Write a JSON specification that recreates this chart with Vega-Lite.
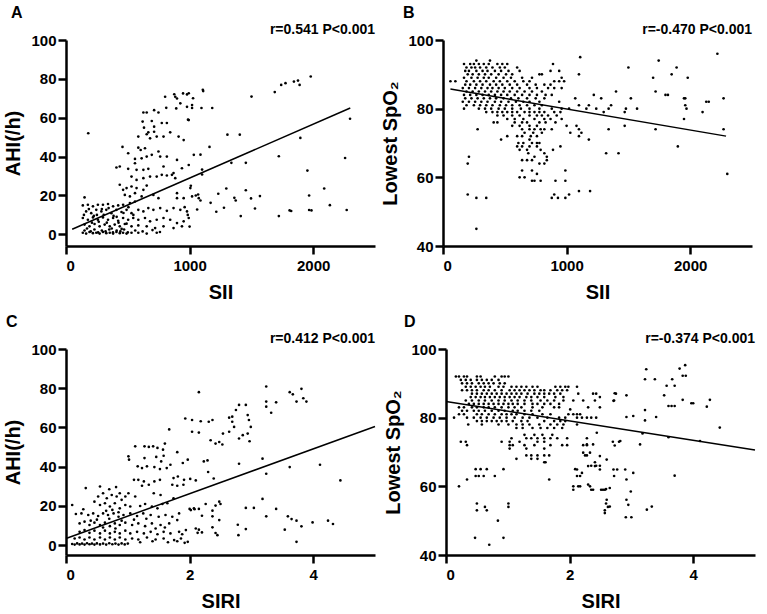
{
"$schema": "https://vega.github.io/schema/vega-lite/v6.json",
"background": "white",
"padding": {"left": 3, "top": 5, "right": 2, "bottom": 2},
"spacing": 12,
"datasets": {
"A": [
{"SII":802,"AHI":70.8},{"SII":876,"AHI":72.1},{"SII":898,"AHI":69.9},{"SII":947,"AHI":72.5},{"SII":979,"AHI":72},{"SII":884,"AHI":70.8},{"SII":1110,"AHI":73.7},{"SII":925,"AHI":67.4},{"SII":1020,"AHI":66.5},{"SII":979,"AHI":65.6},{"SII":811,"AHI":65.1},{"SII":892,"AHI":64.8},{"SII":626,"AHI":62.7},{"SII":653,"AHI":62.7},{"SII":713,"AHI":63.9},{"SII":748,"AHI":62.7},{"SII":993,"AHI":58.8},{"SII":620,"AHI":58},{"SII":694,"AHI":58.3},{"SII":775,"AHI":57.3},{"SII":816,"AHI":57.3},{"SII":631,"AHI":54.9},{"SII":713,"AHI":55.4},{"SII":585,"AHI":50.3},{"SII":653,"AHI":51.5},{"SII":680,"AHI":49.4},{"SII":734,"AHI":50.3},{"SII":789,"AHI":50.3},{"SII":843,"AHI":52.5},{"SII":911,"AHI":50.3},{"SII":952,"AHI":48.5},{"SII":713,"AHI":52.8},{"SII":666,"AHI":52.5},{"SII":457,"AHI":45},{"SII":585,"AHI":44.6},{"SII":604,"AHI":43.4},{"SII":639,"AHI":44.3},{"SII":503,"AHI":41.7},{"SII":653,"AHI":40},{"SII":748,"AHI":42.6},{"SII":762,"AHI":40},{"SII":816,"AHI":40},{"SII":898,"AHI":38.3},{"SII":694,"AHI":40.9},{"SII":558,"AHI":38.8},{"SII":612,"AHI":39.1},{"SII":1034,"AHI":40.9},{"SII":408,"AHI":34.4},{"SII":435,"AHI":34.9},{"SII":503,"AHI":33.7},{"SII":571,"AHI":33.2},{"SII":626,"AHI":33.2},{"SII":666,"AHI":33.7},{"SII":558,"AHI":36.6},{"SII":789,"AHI":34.9},{"SII":938,"AHI":34},{"SII":993,"AHI":35.7},{"SII":734,"AHI":29.7},{"SII":775,"AHI":30.6},{"SII":816,"AHI":30.3},{"SII":857,"AHI":30.6},{"SII":884,"AHI":28.9},{"SII":870,"AHI":31.5},{"SII":530,"AHI":29.7},{"SII":571,"AHI":28},{"SII":626,"AHI":28.9},{"SII":680,"AHI":29.7},{"SII":435,"AHI":25.5},{"SII":462,"AHI":22.9},{"SII":490,"AHI":23.8},{"SII":530,"AHI":24.6},{"SII":571,"AHI":23.8},{"SII":626,"AHI":22.9},{"SII":653,"AHI":25.1},{"SII":476,"AHI":20.3},{"SII":517,"AHI":19.5},{"SII":558,"AHI":21.2},{"SII":612,"AHI":19.5},{"SII":707,"AHI":20.3},{"SII":748,"AHI":18.6},{"SII":898,"AHI":21.2},{"SII":952,"AHI":18.6},{"SII":1006,"AHI":23.8},{"SII":1020,"AHI":19.5},{"SII":1074,"AHI":18.6},{"SII":898,"AHI":18.6},{"SII":180,"AHI":52},
{"SII":150,"AHI":19},{"SII":136,"AHI":14.9},{"SII":177,"AHI":15.2},{"SII":218,"AHI":14.4},{"SII":258,"AHI":15.2},{"SII":299,"AHI":15.2},{"SII":340,"AHI":15.6},{"SII":381,"AHI":14.4},{"SII":422,"AHI":14.9},{"SII":462,"AHI":15.2},{"SII":517,"AHI":16.1},{"SII":558,"AHI":16.9},
{"SII":163,"AHI":11.8},{"SII":204,"AHI":10.9},{"SII":245,"AHI":12.6},{"SII":286,"AHI":11.8},{"SII":326,"AHI":12.6},{"SII":367,"AHI":10.9},{"SII":408,"AHI":12.6},{"SII":449,"AHI":11.5},{"SII":490,"AHI":12.6},{"SII":530,"AHI":10.9},{"SII":585,"AHI":12.6},{"SII":626,"AHI":11.8},{"SII":666,"AHI":13.5},{"SII":707,"AHI":12.6},{"SII":762,"AHI":13.5},{"SII":816,"AHI":12.1},{"SII":870,"AHI":13.5},{"SII":925,"AHI":12.6},{"SII":979,"AHI":11.8},
{"SII":136,"AHI":8.4},{"SII":177,"AHI":7.5},{"SII":218,"AHI":8.7},{"SII":258,"AHI":7.5},{"SII":299,"AHI":8.7},{"SII":340,"AHI":7.5},{"SII":381,"AHI":8.4},{"SII":422,"AHI":7},{"SII":462,"AHI":8.4},{"SII":503,"AHI":7.5},{"SII":544,"AHI":8.4},{"SII":585,"AHI":7.5},{"SII":639,"AHI":8.4},{"SII":680,"AHI":6.7},{"SII":734,"AHI":7.5},{"SII":789,"AHI":8.4},{"SII":843,"AHI":7.5},{"SII":898,"AHI":5.8},{"SII":952,"AHI":6.7},{"SII":993,"AHI":8.4},
{"SII":150,"AHI":5},{"SII":190,"AHI":4.1},{"SII":231,"AHI":5.3},{"SII":272,"AHI":4.1},{"SII":313,"AHI":5},{"SII":354,"AHI":4.1},{"SII":394,"AHI":5},{"SII":435,"AHI":4.1},{"SII":476,"AHI":5.3},{"SII":530,"AHI":4.1},{"SII":585,"AHI":4.6},{"SII":653,"AHI":4.1},{"SII":721,"AHI":3.2},{"SII":789,"AHI":4.1},{"SII":870,"AHI":3.2},{"SII":938,"AHI":4.1},
{"SII":136,"AHI":0.8},{"SII":163,"AHI":0.4},{"SII":190,"AHI":1.2},{"SII":218,"AHI":0.6},{"SII":245,"AHI":0.8},{"SII":272,"AHI":0.4},{"SII":299,"AHI":1.2},{"SII":326,"AHI":0.6},{"SII":354,"AHI":0.8},{"SII":381,"AHI":0.4},{"SII":408,"AHI":1.2},{"SII":435,"AHI":0.6},{"SII":462,"AHI":0.8},{"SII":490,"AHI":0.4},{"SII":530,"AHI":0.8},{"SII":585,"AHI":0.8},{"SII":653,"AHI":0.4},{"SII":734,"AHI":0.8},
{"SII":150,"AHI":2},{"SII":200,"AHI":1.5},{"SII":230,"AHI":2.5},{"SII":260,"AHI":1},{"SII":290,"AHI":2},{"SII":320,"AHI":1.5},{"SII":350,"AHI":2.5},{"SII":380,"AHI":1},{"SII":410,"AHI":2},{"SII":440,"AHI":1.5},{"SII":470,"AHI":2.5},{"SII":500,"AHI":1},{"SII":560,"AHI":2},{"SII":620,"AHI":1.5},{"SII":700,"AHI":2.2},{"SII":760,"AHI":1.2},{"SII":145,"AHI":10},{"SII":185,"AHI":13},{"SII":225,"AHI":9.5},{"SII":265,"AHI":6.5},{"SII":305,"AHI":10},{"SII":345,"AHI":13.5},{"SII":385,"AHI":9.5},{"SII":425,"AHI":6},{"SII":465,"AHI":11},{"SII":505,"AHI":14},{"SII":545,"AHI":10},{"SII":170,"AHI":3},{"SII":210,"AHI":6},{"SII":250,"AHI":10},{"SII":290,"AHI":13},{"SII":330,"AHI":6},{"SII":370,"AHI":3},{"SII":410,"AHI":9},{"SII":450,"AHI":2.8},{"SII":490,"AHI":5.5},
{"SII":1107,"AHI":74.4},{"SII":1183,"AHI":65},{"SII":1096,"AHI":65},{"SII":1161,"AHI":45},{"SII":1088,"AHI":41},{"SII":1101,"AHI":33.3},{"SII":1101,"AHI":30.8},{"SII":1069,"AHI":20.5},{"SII":1088,"AHI":17.4},{"SII":1170,"AHI":16.2},{"SII":1061,"AHI":12.8},{"SII":1216,"AHI":11.6},{"SII":1232,"AHI":20.9},{"SII":1278,"AHI":13.7},{"SII":1297,"AHI":23.6},{"SII":1306,"AHI":51.3},{"SII":1406,"AHI":51.3},{"SII":1338,"AHI":36.8},{"SII":1362,"AHI":18.8},{"SII":1373,"AHI":17.4},{"SII":1414,"AHI":9.4},{"SII":1455,"AHI":36.8},{"SII":1455,"AHI":22.7},{"SII":1497,"AHI":18.5},{"SII":1529,"AHI":13.3},{"SII":1569,"AHI":19.7},{"SII":1501,"AHI":70.9},{"SII":1689,"AHI":73.2},{"SII":1741,"AHI":76.9},{"SII":1722,"AHI":40.2},{"SII":1722,"AHI":9.4},{"SII":1776,"AHI":77.8},{"SII":1809,"AHI":12.3},{"SII":1822,"AHI":12},{"SII":1844,"AHI":78.6},{"SII":1877,"AHI":79.1},{"SII":1890,"AHI":76.9},{"SII":1896,"AHI":49.6},{"SII":1980,"AHI":81.2},{"SII":1953,"AHI":32.8},{"SII":1967,"AHI":20},{"SII":1967,"AHI":12.5},{"SII":1986,"AHI":12.3},{"SII":2089,"AHI":23.6},{"SII":2135,"AHI":15},{"SII":2258,"AHI":39.3},{"SII":2271,"AHI":12.5},{"SII":2298,"AHI":59.5},{"SII":993,"AHI":72.6},{"SII":1028,"AHI":70},{"SII":987,"AHI":59},{"SII":1020,"AHI":65},{"SII":1000,"AHI":4},{"SII":985,"AHI":10},{"SII":960,"AHI":14},{"SII":1010,"AHI":25},{"SII":1050,"AHI":20}
],
"B": [
{"SII":2220,"SpO2":96},{"SII":1110,"SpO2":95},{"SII":270,"SpO2":94},{"SII":380,"SpO2":94},{"SII":1745,"SpO2":94},
{"SII":170,"SpO2":93},{"SII":220,"SpO2":93},{"SII":250,"SpO2":93},{"SII":290,"SpO2":93},{"SII":330,"SpO2":93},{"SII":370,"SpO2":93},{"SII":440,"SpO2":93},{"SII":480,"SpO2":93},{"SII":520,"SpO2":93},{"SII":890,"SpO2":93},
{"SII":190,"SpO2":92},{"SII":230,"SpO2":92},{"SII":260,"SpO2":92},{"SII":300,"SpO2":92},{"SII":350,"SpO2":92},{"SII":400,"SpO2":92},{"SII":460,"SpO2":92},{"SII":500,"SpO2":92},{"SII":600,"SpO2":92},{"SII":1500,"SpO2":92},{"SII":1890,"SpO2":92},
{"SII":180,"SpO2":91},{"SII":210,"SpO2":91},{"SII":270,"SpO2":91},{"SII":320,"SpO2":91},{"SII":360,"SpO2":91},{"SII":420,"SpO2":91},{"SII":470,"SpO2":91},{"SII":530,"SpO2":91},{"SII":620,"SpO2":91},{"SII":870,"SpO2":91},{"SII":940,"SpO2":91},
{"SII":200,"SpO2":90},{"SII":240,"SpO2":90},{"SII":290,"SpO2":90},{"SII":340,"SpO2":90},{"SII":390,"SpO2":90},{"SII":450,"SpO2":90},{"SII":510,"SpO2":90},{"SII":560,"SpO2":90},{"SII":780,"SpO2":90},{"SII":800,"SpO2":90},{"SII":1100,"SpO2":90},{"SII":1850,"SpO2":90},
{"SII":170,"SpO2":89},{"SII":230,"SpO2":89},{"SII":280,"SpO2":89},{"SII":330,"SpO2":89},{"SII":370,"SpO2":89},{"SII":430,"SpO2":89},{"SII":490,"SpO2":89},{"SII":550,"SpO2":89},{"SII":640,"SpO2":89},{"SII":720,"SpO2":89},{"SII":960,"SpO2":89},{"SII":1700,"SpO2":89},{"SII":1980,"SpO2":89},
{"SII":60,"SpO2":88},{"SII":100,"SpO2":88},{"SII":190,"SpO2":88},{"SII":250,"SpO2":88},{"SII":300,"SpO2":88},{"SII":350,"SpO2":88},{"SII":410,"SpO2":88},{"SII":460,"SpO2":88},{"SII":520,"SpO2":88},{"SII":580,"SpO2":88},{"SII":650,"SpO2":88},{"SII":700,"SpO2":88},{"SII":900,"SpO2":88},{"SII":940,"SpO2":88},{"SII":980,"SpO2":88},
{"SII":180,"SpO2":87},{"SII":220,"SpO2":87},{"SII":270,"SpO2":87},{"SII":320,"SpO2":87},{"SII":380,"SpO2":87},{"SII":430,"SpO2":87},{"SII":480,"SpO2":87},{"SII":540,"SpO2":87},{"SII":600,"SpO2":87},{"SII":680,"SpO2":87},{"SII":750,"SpO2":87},{"SII":820,"SpO2":87},{"SII":870,"SpO2":87},
{"SII":160,"SpO2":86},{"SII":210,"SpO2":86},{"SII":260,"SpO2":86},{"SII":310,"SpO2":86},{"SII":360,"SpO2":86},{"SII":400,"SpO2":86},{"SII":450,"SpO2":86},{"SII":500,"SpO2":86},{"SII":560,"SpO2":86},{"SII":620,"SpO2":86},{"SII":700,"SpO2":86},{"SII":760,"SpO2":86},{"SII":850,"SpO2":86},{"SII":900,"SpO2":86},{"SII":960,"SpO2":86},
{"SII":190,"SpO2":85},{"SII":240,"SpO2":85},{"SII":290,"SpO2":85},{"SII":340,"SpO2":85},{"SII":390,"SpO2":85},{"SII":440,"SpO2":85},{"SII":490,"SpO2":85},{"SII":540,"SpO2":85},{"SII":600,"SpO2":85},{"SII":660,"SpO2":85},{"SII":720,"SpO2":85},{"SII":800,"SpO2":85},{"SII":1400,"SpO2":85},{"SII":1720,"SpO2":85},
{"SII":170,"SpO2":84},{"SII":220,"SpO2":84},{"SII":270,"SpO2":84},{"SII":320,"SpO2":84},{"SII":370,"SpO2":84},{"SII":420,"SpO2":84},{"SII":470,"SpO2":84},{"SII":520,"SpO2":84},{"SII":580,"SpO2":84},{"SII":640,"SpO2":84},{"SII":700,"SpO2":84},{"SII":760,"SpO2":84},{"SII":830,"SpO2":84},{"SII":880,"SpO2":84},{"SII":1220,"SpO2":84},{"SII":1800,"SpO2":84},{"SII":1820,"SpO2":84},
{"SII":180,"SpO2":83},{"SII":230,"SpO2":83},{"SII":280,"SpO2":83},{"SII":330,"SpO2":83},{"SII":380,"SpO2":83},{"SII":430,"SpO2":83},{"SII":490,"SpO2":83},{"SII":550,"SpO2":83},{"SII":610,"SpO2":83},{"SII":680,"SpO2":83},{"SII":750,"SpO2":83},{"SII":820,"SpO2":83},{"SII":1070,"SpO2":83},{"SII":1280,"SpO2":83},{"SII":1520,"SpO2":83},{"SII":1950,"SpO2":83},{"SII":1960,"SpO2":83},{"SII":2270,"SpO2":83},
{"SII":160,"SpO2":82},{"SII":210,"SpO2":82},{"SII":260,"SpO2":82},{"SII":310,"SpO2":82},{"SII":360,"SpO2":82},{"SII":420,"SpO2":82},{"SII":470,"SpO2":82},{"SII":530,"SpO2":82},{"SII":590,"SpO2":82},{"SII":650,"SpO2":82},{"SII":700,"SpO2":82},{"SII":780,"SpO2":82},{"SII":940,"SpO2":82},{"SII":2130,"SpO2":82},{"SII":2150,"SpO2":82},
{"SII":190,"SpO2":81},{"SII":250,"SpO2":81},{"SII":300,"SpO2":81},{"SII":350,"SpO2":81},{"SII":400,"SpO2":81},{"SII":460,"SpO2":81},{"SII":510,"SpO2":81},{"SII":560,"SpO2":81},{"SII":620,"SpO2":81},{"SII":680,"SpO2":81},{"SII":740,"SpO2":81},{"SII":800,"SpO2":81},{"SII":1100,"SpO2":81},{"SII":1180,"SpO2":81},{"SII":1360,"SpO2":81},{"SII":1960,"SpO2":81},
{"SII":170,"SpO2":80},{"SII":290,"SpO2":80},{"SII":340,"SpO2":80},{"SII":390,"SpO2":80},{"SII":450,"SpO2":80},{"SII":500,"SpO2":80},{"SII":560,"SpO2":80},{"SII":630,"SpO2":80},{"SII":700,"SpO2":80},{"SII":780,"SpO2":80},{"SII":880,"SpO2":80},{"SII":960,"SpO2":80},{"SII":1020,"SpO2":80},{"SII":1160,"SpO2":80},{"SII":1240,"SpO2":80},{"SII":1340,"SpO2":80},{"SII":1480,"SpO2":80},{"SII":1570,"SpO2":80},{"SII":1970,"SpO2":80},
{"SII":350,"SpO2":79},{"SII":400,"SpO2":79},{"SII":440,"SpO2":79},{"SII":480,"SpO2":79},{"SII":520,"SpO2":79},{"SII":560,"SpO2":79},{"SII":600,"SpO2":79},{"SII":660,"SpO2":79},{"SII":700,"SpO2":79},{"SII":740,"SpO2":79},{"SII":780,"SpO2":79},{"SII":820,"SpO2":79},{"SII":900,"SpO2":79},{"SII":950,"SpO2":79},{"SII":1300,"SpO2":79},{"SII":1470,"SpO2":79},{"SII":2100,"SpO2":79},
{"SII":440,"SpO2":78},{"SII":490,"SpO2":78},{"SII":560,"SpO2":78},{"SII":620,"SpO2":78},{"SII":700,"SpO2":78},{"SII":760,"SpO2":78},{"SII":800,"SpO2":78},{"SII":850,"SpO2":78},{"SII":920,"SpO2":78},
{"SII":520,"SpO2":77},{"SII":580,"SpO2":77},{"SII":650,"SpO2":77},{"SII":740,"SpO2":77},{"SII":820,"SpO2":77},{"SII":870,"SpO2":77},{"SII":960,"SpO2":77},{"SII":1950,"SpO2":77},
{"SII":410,"SpO2":76},{"SII":440,"SpO2":76},{"SII":580,"SpO2":76},{"SII":640,"SpO2":76},{"SII":680,"SpO2":76},{"SII":780,"SpO2":76},{"SII":830,"SpO2":76},{"SII":910,"SpO2":76},
{"SII":560,"SpO2":75},{"SII":620,"SpO2":75},{"SII":700,"SpO2":75},{"SII":760,"SpO2":75},{"SII":1000,"SpO2":75},{"SII":1080,"SpO2":75},{"SII":1470,"SpO2":75},
{"SII":280,"SpO2":74},{"SII":640,"SpO2":74},{"SII":700,"SpO2":74},{"SII":740,"SpO2":74},{"SII":790,"SpO2":74},{"SII":820,"SpO2":74},{"SII":880,"SpO2":74},{"SII":1100,"SpO2":74},{"SII":1340,"SpO2":74},{"SII":1720,"SpO2":74},{"SII":2270,"SpO2":74},
{"SII":660,"SpO2":73},{"SII":730,"SpO2":73},{"SII":800,"SpO2":73},{"SII":1030,"SpO2":73},{"SII":1120,"SpO2":73},
{"SII":520,"SpO2":72},{"SII":600,"SpO2":72},{"SII":640,"SpO2":72},{"SII":710,"SpO2":72},{"SII":760,"SpO2":72},{"SII":1100,"SpO2":72},
{"SII":470,"SpO2":71},{"SII":700,"SpO2":71},{"SII":1180,"SpO2":71},
{"SII":610,"SpO2":70},{"SII":650,"SpO2":70},{"SII":720,"SpO2":70},{"SII":760,"SpO2":70},{"SII":780,"SpO2":70},
{"SII":600,"SpO2":69},{"SII":640,"SpO2":69},{"SII":700,"SpO2":69},{"SII":760,"SpO2":69},{"SII":950,"SpO2":69},{"SII":1900,"SpO2":69},
{"SII":620,"SpO2":68},{"SII":680,"SpO2":68},{"SII":790,"SpO2":68},{"SII":890,"SpO2":68},
{"SII":690,"SpO2":67},{"SII":820,"SpO2":67},{"SII":1320,"SpO2":67},{"SII":1420,"SpO2":67},
{"SII":210,"SpO2":66},{"SII":740,"SpO2":66},{"SII":840,"SpO2":66},
{"SII":640,"SpO2":65},{"SII":680,"SpO2":65},{"SII":720,"SpO2":65},{"SII":840,"SpO2":65},
{"SII":200,"SpO2":64},{"SII":780,"SpO2":64},{"SII":820,"SpO2":64},
{"SII":640,"SpO2":62},{"SII":720,"SpO2":62},{"SII":990,"SpO2":62},
{"SII":760,"SpO2":61},{"SII":2300,"SpO2":61},
{"SII":620,"SpO2":60},{"SII":660,"SpO2":60},
{"SII":720,"SpO2":59},{"SII":740,"SpO2":59},{"SII":790,"SpO2":59},{"SII":910,"SpO2":59},{"SII":990,"SpO2":59},
{"SII":1100,"SpO2":56},{"SII":1190,"SpO2":56},
{"SII":200,"SpO2":55},{"SII":900,"SpO2":55},{"SII":1020,"SpO2":55},
{"SII":270,"SpO2":54},{"SII":350,"SpO2":54},{"SII":880,"SpO2":54},{"SII":930,"SpO2":54},{"SII":990,"SpO2":54},
{"SII":270,"SpO2":45}
],
"C": [
{"SIRI":2.15,"AHI":78},{"SIRI":3.24,"AHI":80.9},{"SIRI":3.62,"AHI":78},{"SIRI":3.67,"AHI":76.9},{"SIRI":3.81,"AHI":79.7},{"SIRI":3.84,"AHI":74.9},{"SIRI":3.89,"AHI":73.2},{"SIRI":3.73,"AHI":73.2},{"SIRI":3.24,"AHI":73.2},{"SIRI":3.4,"AHI":72.8},{"SIRI":3.32,"AHI":67.5},{"SIRI":3.24,"AHI":70.6},
{"SIRI":1.93,"AHI":64.6},{"SIRI":2.04,"AHI":63.8},{"SIRI":2.18,"AHI":63.2},{"SIRI":2.31,"AHI":62.9},{"SIRI":2.37,"AHI":63.8},{"SIRI":2.04,"AHI":57.8},{"SIRI":2.15,"AHI":57.4},{"SIRI":2.34,"AHI":53.5},{"SIRI":2.42,"AHI":51.8},{"SIRI":2.48,"AHI":52.6},{"SIRI":2.53,"AHI":51.3},{"SIRI":2.54,"AHI":56.9},{"SIRI":2.64,"AHI":57.8},{"SIRI":2.69,"AHI":62.9},{"SIRI":2.72,"AHI":60.3},{"SIRI":2.64,"AHI":65},{"SIRI":2.69,"AHI":65.5},{"SIRI":2.75,"AHI":68.9},{"SIRI":2.8,"AHI":71.5},{"SIRI":2.91,"AHI":71.5},{"SIRI":2.94,"AHI":66.3},{"SIRI":2.96,"AHI":63.8},{"SIRI":2.99,"AHI":60.3},{"SIRI":2.97,"AHI":53},{"SIRI":2.8,"AHI":54.4},{"SIRI":2.86,"AHI":56.1},{"SIRI":2.94,"AHI":56.9},
{"SIRI":2.8,"AHI":41.5},{"SIRI":3.18,"AHI":44.1},{"SIRI":3.24,"AHI":36.4},{"SIRI":3.62,"AHI":39.8},{"SIRI":4.11,"AHI":41},{"SIRI":4.44,"AHI":33},
{"SIRI":2.15,"AHI":18.5},{"SIRI":2.26,"AHI":21},{"SIRI":2.37,"AHI":17.6},{"SIRI":2.42,"AHI":20.2},{"SIRI":2.48,"AHI":22.2},{"SIRI":2.5,"AHI":21},{"SIRI":2.2,"AHI":15},{"SIRI":2.37,"AHI":14.7},{"SIRI":2.15,"AHI":7.9},{"SIRI":2.2,"AHI":6.5},{"SIRI":2.37,"AHI":9.1},{"SIRI":2.42,"AHI":6.2},{"SIRI":2.45,"AHI":5.1},{"SIRI":2.48,"AHI":12.8},{"SIRI":2.78,"AHI":10.4},{"SIRI":2.79,"AHI":5.1},{"SIRI":2.91,"AHI":8.2},{"SIRI":2.91,"AHI":19},{"SIRI":3.04,"AHI":19},{"SIRI":3.18,"AHI":23.6},{"SIRI":3.24,"AHI":14.7},{"SIRI":3.4,"AHI":18.5},{"SIRI":3.54,"AHI":7.9},{"SIRI":3.59,"AHI":14.7},{"SIRI":3.65,"AHI":13.3},{"SIRI":3.73,"AHI":12.5},{"SIRI":3.81,"AHI":9.6},{"SIRI":3.73,"AHI":1.7},{"SIRI":3.99,"AHI":11.6},{"SIRI":4.24,"AHI":12.5},{"SIRI":4.32,"AHI":10.8},
{"SIRI":2.01,"AHI":33.8},{"SIRI":2.1,"AHI":33},{"SIRI":2.39,"AHI":34},{"SIRI":2.3,"AHI":37.3},{"SIRI":2.29,"AHI":43.2},{"SIRI":2.23,"AHI":42.7},{"SIRI":2.0,"AHI":18.5},{"SIRI":2.07,"AHI":18.8},{"SIRI":1.88,"AHI":5.6},
{"SIRI":1.67,"AHI":59},{"SIRI":1.12,"AHI":50.4},{"SIRI":1.27,"AHI":50.4},{"SIRI":1.34,"AHI":50.1},{"SIRI":1.41,"AHI":50.4},{"SIRI":1.48,"AHI":49.6},{"SIRI":1.6,"AHI":51.8},{"SIRI":1.57,"AHI":48.7},{"SIRI":1.01,"AHI":45.3},{"SIRI":1.02,"AHI":43.6},{"SIRI":1.27,"AHI":44.4},{"SIRI":1.46,"AHI":45},{"SIRI":1.58,"AHI":45.6},{"SIRI":1.54,"AHI":42.7},{"SIRI":1.8,"AHI":47.4},{"SIRI":1.97,"AHI":43.6},{"SIRI":1.89,"AHI":41.9},
{"SIRI":1.16,"AHI":40.2},{"SIRI":1.23,"AHI":39.3},{"SIRI":1.31,"AHI":40.2},{"SIRI":1.43,"AHI":39.8},{"SIRI":1.52,"AHI":38.8},{"SIRI":1.63,"AHI":39.3},{"SIRI":1.69,"AHI":41},{"SIRI":1.1,"AHI":33.3},{"SIRI":1.17,"AHI":33.3},{"SIRI":1.26,"AHI":32.5},{"SIRI":1.34,"AHI":30.8},{"SIRI":1.43,"AHI":32.5},{"SIRI":1.52,"AHI":33.3},{"SIRI":1.74,"AHI":34.2},{"SIRI":1.81,"AHI":35},{"SIRI":1.23,"AHI":30.3},{"SIRI":1.42,"AHI":26.5},{"SIRI":1.72,"AHI":30.8},{"SIRI":1.8,"AHI":30.3},{"SIRI":1.9,"AHI":30.8},{"SIRI":1.91,"AHI":33.3},
{"SIRI":0.55,"AHI":29.9},{"SIRI":0.32,"AHI":29.1},{"SIRI":0.7,"AHI":28.5},{"SIRI":0.81,"AHI":29.6},{"SIRI":1.12,"AHI":24.8},{"SIRI":1.01,"AHI":26.5},{"SIRI":0.52,"AHI":24.8},{"SIRI":0.6,"AHI":26.5},{"SIRI":0.66,"AHI":23.9},{"SIRI":0.74,"AHI":25.6},{"SIRI":0.82,"AHI":24.8},{"SIRI":0.9,"AHI":23.1},{"SIRI":0.96,"AHI":24.8},{"SIRI":0.87,"AHI":26.5},{"SIRI":1.53,"AHI":25.6},{"SIRI":1.64,"AHI":21.4},{"SIRI":1.74,"AHI":23.9},{"SIRI":0.1,"AHI":20.5},{"SIRI":0.28,"AHI":18.3},
{"SIRI":0.46,"AHI":22.2},{"SIRI":0.55,"AHI":20.5},{"SIRI":0.63,"AHI":21.4},{"SIRI":0.71,"AHI":19.7},{"SIRI":0.79,"AHI":21.4},{"SIRI":0.87,"AHI":18.8},{"SIRI":0.96,"AHI":20.5},{"SIRI":1.04,"AHI":19.7},{"SIRI":1.2,"AHI":20},{"SIRI":1.28,"AHI":21},{"SIRI":1.39,"AHI":19.7},{"SIRI":1.48,"AHI":18.8},{"SIRI":1.56,"AHI":21},
{"SIRI":0.16,"AHI":15.9},{"SIRI":0.25,"AHI":16.2},{"SIRI":0.36,"AHI":15.4},{"SIRI":0.44,"AHI":16.2},{"SIRI":0.52,"AHI":14.9},{"SIRI":0.6,"AHI":16.2},{"SIRI":0.68,"AHI":15.4},{"SIRI":0.77,"AHI":16.2},{"SIRI":0.85,"AHI":14.5},{"SIRI":0.93,"AHI":15.4},{"SIRI":1.04,"AHI":16.2},{"SIRI":1.15,"AHI":14.9},{"SIRI":1.25,"AHI":16.2},{"SIRI":1.37,"AHI":15.4},{"SIRI":1.5,"AHI":14.5},{"SIRI":1.61,"AHI":15.4},{"SIRI":1.72,"AHI":14.5},{"SIRI":1.83,"AHI":16.2},
{"SIRI":0.22,"AHI":11.1},{"SIRI":0.3,"AHI":12},{"SIRI":0.38,"AHI":10.3},{"SIRI":0.46,"AHI":11.5},{"SIRI":0.55,"AHI":10.3},{"SIRI":0.63,"AHI":11.5},{"SIRI":0.71,"AHI":9.7},{"SIRI":0.79,"AHI":11.1},{"SIRI":0.87,"AHI":10.3},{"SIRI":0.96,"AHI":11.5},{"SIRI":1.07,"AHI":10.3},{"SIRI":1.17,"AHI":11.1},{"SIRI":1.28,"AHI":9.7},{"SIRI":1.39,"AHI":11.1},{"SIRI":1.53,"AHI":10.3},{"SIRI":1.67,"AHI":11.1},{"SIRI":1.8,"AHI":12.8},{"SIRI":2.02,"AHI":17.9},{"SIRI":2.08,"AHI":18.3},
{"SIRI":0.22,"AHI":6.8},{"SIRI":0.3,"AHI":7.7},{"SIRI":0.38,"AHI":6.3},{"SIRI":0.46,"AHI":7.4},{"SIRI":0.55,"AHI":6},{"SIRI":0.63,"AHI":7.4},{"SIRI":0.71,"AHI":6},{"SIRI":0.79,"AHI":6.8},{"SIRI":0.87,"AHI":6},{"SIRI":0.96,"AHI":7.4},{"SIRI":1.04,"AHI":6},{"SIRI":1.15,"AHI":6.8},{"SIRI":1.26,"AHI":6},{"SIRI":1.37,"AHI":6.8},{"SIRI":1.48,"AHI":5.6},{"SIRI":1.58,"AHI":6.8},{"SIRI":1.69,"AHI":6},{"SIRI":1.83,"AHI":6.8},{"SIRI":1.94,"AHI":7.7},{"SIRI":2.13,"AHI":6.3},{"SIRI":2.1,"AHI":8.5},
{"SIRI":0.14,"AHI":3.4},{"SIRI":0.22,"AHI":3.9},{"SIRI":0.3,"AHI":2.9},{"SIRI":0.38,"AHI":3.9},{"SIRI":0.46,"AHI":2.9},{"SIRI":0.55,"AHI":3.9},{"SIRI":0.63,"AHI":2.9},{"SIRI":0.71,"AHI":3.9},{"SIRI":0.79,"AHI":2.9},{"SIRI":0.87,"AHI":3.9},{"SIRI":0.96,"AHI":2.9},{"SIRI":1.07,"AHI":3.4},{"SIRI":1.17,"AHI":2.9},{"SIRI":1.31,"AHI":3.9},{"SIRI":1.45,"AHI":2.9},{"SIRI":1.58,"AHI":3.4},{"SIRI":1.75,"AHI":2.6},{"SIRI":1.86,"AHI":3.4},{"SIRI":1.97,"AHI":1.7},{"SIRI":1.92,"AHI":1.2},
{"SIRI":0.1,"AHI":0.6},{"SIRI":0.14,"AHI":0.3},{"SIRI":0.18,"AHI":0.9},{"SIRI":0.22,"AHI":0.4},{"SIRI":0.26,"AHI":0.8},{"SIRI":0.3,"AHI":0.3},{"SIRI":0.34,"AHI":1},{"SIRI":0.38,"AHI":0.5},{"SIRI":0.42,"AHI":0.8},{"SIRI":0.46,"AHI":0.3},{"SIRI":0.5,"AHI":0.9},{"SIRI":0.55,"AHI":0.4},{"SIRI":0.6,"AHI":0.8},{"SIRI":0.65,"AHI":0.3},{"SIRI":0.7,"AHI":1},{"SIRI":0.75,"AHI":0.5},{"SIRI":0.8,"AHI":0.8},{"SIRI":0.85,"AHI":0.3},{"SIRI":0.9,"AHI":0.9},{"SIRI":0.95,"AHI":0.4},{"SIRI":1.0,"AHI":0.8},
{"SIRI":0.4,"AHI":12.5},{"SIRI":0.5,"AHI":13},{"SIRI":0.6,"AHI":9},{"SIRI":0.7,"AHI":13.5},{"SIRI":0.8,"AHI":8.5},{"SIRI":0.9,"AHI":12.5},{"SIRI":0.75,"AHI":18},{"SIRI":0.65,"AHI":17.5},{"SIRI":0.85,"AHI":16.8},{"SIRI":1.1,"AHI":13},{"SIRI":1.3,"AHI":13.5},{"SIRI":1.45,"AHI":8.5},{"SIRI":1.6,"AHI":9},{"SIRI":1.2,"AHI":1.5},{"SIRI":1.4,"AHI":2},{"SIRI":1.65,"AHI":1.5},{"SIRI":1.8,"AHI":2}
],
"D": [
{"SIRI":0.16,"SpO2":92},{"SIRI":0.21,"SpO2":92},{"SIRI":0.29,"SpO2":92},{"SIRI":0.34,"SpO2":92},{"SIRI":0.5,"SpO2":92},{"SIRI":0.56,"SpO2":92},{"SIRI":0.79,"SpO2":92},{"SIRI":0.9,"SpO2":92},{"SIRI":0.95,"SpO2":92},{"SIRI":1.01,"SpO2":92},
{"SIRI":0.24,"SpO2":91},{"SIRI":0.32,"SpO2":91},{"SIRI":0.4,"SpO2":91},{"SIRI":0.5,"SpO2":91},{"SIRI":0.58,"SpO2":91},{"SIRI":0.66,"SpO2":91},{"SIRI":0.74,"SpO2":91},{"SIRI":0.85,"SpO2":91},
{"SIRI":0.26,"SpO2":90},{"SIRI":0.34,"SpO2":90},{"SIRI":0.42,"SpO2":90},{"SIRI":0.53,"SpO2":90},{"SIRI":0.61,"SpO2":90},{"SIRI":0.69,"SpO2":90},{"SIRI":0.77,"SpO2":90},{"SIRI":0.87,"SpO2":90},{"SIRI":0.95,"SpO2":90},
{"SIRI":0.32,"SpO2":89},{"SIRI":0.4,"SpO2":89},{"SIRI":0.48,"SpO2":89},{"SIRI":0.56,"SpO2":89},{"SIRI":0.63,"SpO2":89},{"SIRI":0.71,"SpO2":89},{"SIRI":0.85,"SpO2":89},{"SIRI":0.93,"SpO2":89},{"SIRI":1.06,"SpO2":89},{"SIRI":1.14,"SpO2":89},{"SIRI":1.22,"SpO2":89},{"SIRI":1.3,"SpO2":89},{"SIRI":1.4,"SpO2":89},{"SIRI":1.48,"SpO2":89},{"SIRI":1.77,"SpO2":89},{"SIRI":1.85,"SpO2":89},{"SIRI":1.93,"SpO2":89},{"SIRI":1.98,"SpO2":89},{"SIRI":2.12,"SpO2":89},
{"SIRI":0.26,"SpO2":88},{"SIRI":0.34,"SpO2":88},{"SIRI":0.42,"SpO2":88},{"SIRI":0.5,"SpO2":88},{"SIRI":0.61,"SpO2":88},{"SIRI":0.69,"SpO2":88},{"SIRI":0.79,"SpO2":88},{"SIRI":0.9,"SpO2":88},{"SIRI":1.03,"SpO2":88},{"SIRI":1.11,"SpO2":88},{"SIRI":1.19,"SpO2":88},{"SIRI":1.27,"SpO2":88},{"SIRI":1.35,"SpO2":88},{"SIRI":1.43,"SpO2":88},{"SIRI":1.53,"SpO2":88},{"SIRI":1.59,"SpO2":88},{"SIRI":1.69,"SpO2":88},{"SIRI":1.8,"SpO2":88},{"SIRI":1.88,"SpO2":88},{"SIRI":1.96,"SpO2":88},
{"SIRI":0.42,"SpO2":87},{"SIRI":0.5,"SpO2":87},{"SIRI":0.58,"SpO2":87},{"SIRI":0.66,"SpO2":87},{"SIRI":0.74,"SpO2":87},{"SIRI":0.82,"SpO2":87},{"SIRI":0.9,"SpO2":87},{"SIRI":0.98,"SpO2":87},{"SIRI":1.06,"SpO2":87},{"SIRI":1.14,"SpO2":87},{"SIRI":1.22,"SpO2":87},{"SIRI":1.32,"SpO2":87},{"SIRI":1.43,"SpO2":87},{"SIRI":1.51,"SpO2":87},{"SIRI":1.59,"SpO2":87},{"SIRI":1.67,"SpO2":87},{"SIRI":1.75,"SpO2":87},{"SIRI":1.85,"SpO2":87},{"SIRI":2.14,"SpO2":87},{"SIRI":2.38,"SpO2":87},{"SIRI":2.43,"SpO2":87},{"SIRI":2.75,"SpO2":87},
{"SIRI":0.4,"SpO2":86},{"SIRI":0.48,"SpO2":86},{"SIRI":0.56,"SpO2":86},{"SIRI":0.63,"SpO2":86},{"SIRI":0.71,"SpO2":86},{"SIRI":0.79,"SpO2":86},{"SIRI":0.87,"SpO2":86},{"SIRI":0.95,"SpO2":86},{"SIRI":1.03,"SpO2":86},{"SIRI":1.11,"SpO2":86},{"SIRI":1.19,"SpO2":86},{"SIRI":1.3,"SpO2":86},{"SIRI":1.38,"SpO2":86},{"SIRI":1.48,"SpO2":86},{"SIRI":1.59,"SpO2":86},{"SIRI":1.77,"SpO2":86},{"SIRI":1.9,"SpO2":86},{"SIRI":2.49,"SpO2":86},
{"SIRI":0.32,"SpO2":85},{"SIRI":0.42,"SpO2":85},{"SIRI":0.53,"SpO2":85},{"SIRI":0.63,"SpO2":85},{"SIRI":0.74,"SpO2":85},{"SIRI":0.85,"SpO2":85},{"SIRI":0.95,"SpO2":85},{"SIRI":1.06,"SpO2":85},{"SIRI":1.16,"SpO2":85},{"SIRI":1.27,"SpO2":85},{"SIRI":1.38,"SpO2":85},{"SIRI":1.53,"SpO2":85},{"SIRI":1.64,"SpO2":85},{"SIRI":1.75,"SpO2":85},{"SIRI":1.9,"SpO2":85},{"SIRI":2.06,"SpO2":85},{"SIRI":2.22,"SpO2":85},{"SIRI":2.41,"SpO2":85},{"SIRI":2.72,"SpO2":85},
{"SIRI":0.37,"SpO2":84},{"SIRI":0.45,"SpO2":84},{"SIRI":0.53,"SpO2":84},{"SIRI":0.61,"SpO2":84},{"SIRI":0.69,"SpO2":84},{"SIRI":0.77,"SpO2":84},{"SIRI":0.85,"SpO2":84},{"SIRI":0.93,"SpO2":84},{"SIRI":1.01,"SpO2":84},{"SIRI":1.08,"SpO2":84},{"SIRI":1.16,"SpO2":84},{"SIRI":1.27,"SpO2":84},{"SIRI":1.4,"SpO2":84},{"SIRI":1.48,"SpO2":84},{"SIRI":1.59,"SpO2":84},{"SIRI":1.69,"SpO2":84},{"SIRI":1.83,"SpO2":84},
{"SIRI":0.21,"SpO2":83},{"SIRI":0.29,"SpO2":83},{"SIRI":0.42,"SpO2":83},{"SIRI":0.5,"SpO2":83},{"SIRI":0.61,"SpO2":83},{"SIRI":0.69,"SpO2":83},{"SIRI":0.79,"SpO2":83},{"SIRI":0.9,"SpO2":83},{"SIRI":1.01,"SpO2":83},{"SIRI":1.11,"SpO2":83},{"SIRI":1.22,"SpO2":83},{"SIRI":1.4,"SpO2":83},{"SIRI":1.56,"SpO2":83},{"SIRI":1.75,"SpO2":83},{"SIRI":1.83,"SpO2":83},{"SIRI":2.3,"SpO2":83},{"SIRI":2.49,"SpO2":83},
{"SIRI":0.26,"SpO2":82},{"SIRI":0.34,"SpO2":82},{"SIRI":0.45,"SpO2":82},{"SIRI":0.53,"SpO2":82},{"SIRI":0.63,"SpO2":82},{"SIRI":0.74,"SpO2":82},{"SIRI":0.85,"SpO2":82},{"SIRI":0.95,"SpO2":82},{"SIRI":1.08,"SpO2":82},{"SIRI":1.16,"SpO2":82},{"SIRI":1.27,"SpO2":82},{"SIRI":1.38,"SpO2":82},{"SIRI":1.51,"SpO2":82},
{"SIRI":0.21,"SpO2":81},{"SIRI":0.29,"SpO2":81},{"SIRI":0.5,"SpO2":81},{"SIRI":0.58,"SpO2":81},{"SIRI":0.69,"SpO2":81},{"SIRI":0.79,"SpO2":81},{"SIRI":0.9,"SpO2":81},{"SIRI":0.98,"SpO2":81},{"SIRI":1.06,"SpO2":81},{"SIRI":1.14,"SpO2":81},{"SIRI":1.27,"SpO2":81},{"SIRI":1.4,"SpO2":81},{"SIRI":1.56,"SpO2":81},{"SIRI":1.69,"SpO2":81},{"SIRI":1.98,"SpO2":81},{"SIRI":2.06,"SpO2":81},{"SIRI":2.12,"SpO2":81},{"SIRI":2.17,"SpO2":81},
{"SIRI":0.13,"SpO2":80},{"SIRI":0.34,"SpO2":80},{"SIRI":0.45,"SpO2":80},{"SIRI":0.56,"SpO2":80},{"SIRI":0.66,"SpO2":80},{"SIRI":0.77,"SpO2":80},{"SIRI":0.87,"SpO2":80},{"SIRI":0.98,"SpO2":80},{"SIRI":1.11,"SpO2":80},{"SIRI":1.24,"SpO2":80},{"SIRI":1.35,"SpO2":80},{"SIRI":1.48,"SpO2":80},{"SIRI":1.64,"SpO2":80},{"SIRI":1.83,"SpO2":80},{"SIRI":1.93,"SpO2":80},{"SIRI":2.12,"SpO2":80},{"SIRI":2.2,"SpO2":80},{"SIRI":2.28,"SpO2":80},{"SIRI":2.35,"SpO2":80},{"SIRI":2.43,"SpO2":80},
{"SIRI":0.5,"SpO2":79},{"SIRI":0.58,"SpO2":79},{"SIRI":0.66,"SpO2":79},{"SIRI":0.74,"SpO2":79},{"SIRI":0.82,"SpO2":79},{"SIRI":0.9,"SpO2":79},{"SIRI":0.98,"SpO2":79},{"SIRI":1.08,"SpO2":79},{"SIRI":1.22,"SpO2":79},{"SIRI":1.32,"SpO2":79},{"SIRI":1.59,"SpO2":79},{"SIRI":1.75,"SpO2":79},{"SIRI":1.85,"SpO2":79},{"SIRI":1.93,"SpO2":79},
{"SIRI":0.36,"SpO2":78},{"SIRI":0.58,"SpO2":78},{"SIRI":0.85,"SpO2":78},{"SIRI":1.01,"SpO2":78},{"SIRI":1.14,"SpO2":78},{"SIRI":1.24,"SpO2":78},{"SIRI":1.35,"SpO2":78},{"SIRI":1.51,"SpO2":78},{"SIRI":1.69,"SpO2":78},{"SIRI":1.8,"SpO2":78},{"SIRI":1.9,"SpO2":78},{"SIRI":2.12,"SpO2":78},
{"SIRI":1.14,"SpO2":77},{"SIRI":1.24,"SpO2":77},{"SIRI":1.4,"SpO2":77},{"SIRI":1.53,"SpO2":77},{"SIRI":1.64,"SpO2":77},{"SIRI":1.75,"SpO2":77},{"SIRI":1.88,"SpO2":77},
{"SIRI":1.27,"SpO2":75},{"SIRI":1.43,"SpO2":75},{"SIRI":1.56,"SpO2":75},{"SIRI":1.72,"SpO2":75},
{"SIRI":1.06,"SpO2":74},{"SIRI":1.3,"SpO2":74},{"SIRI":1.38,"SpO2":74},{"SIRI":1.48,"SpO2":74},{"SIRI":1.59,"SpO2":74},{"SIRI":1.69,"SpO2":74},{"SIRI":1.8,"SpO2":74},{"SIRI":1.96,"SpO2":74},{"SIRI":2.28,"SpO2":74},
{"SIRI":0.24,"SpO2":73},{"SIRI":0.32,"SpO2":73},{"SIRI":0.9,"SpO2":73},{"SIRI":1.03,"SpO2":73},{"SIRI":1.19,"SpO2":73},{"SIRI":1.48,"SpO2":73},{"SIRI":1.59,"SpO2":73},{"SIRI":2.7,"SpO2":73},{"SIRI":2.8,"SpO2":73},
{"SIRI":0.34,"SpO2":72},{"SIRI":1.03,"SpO2":72},{"SIRI":1.08,"SpO2":72},{"SIRI":1.27,"SpO2":72},{"SIRI":1.43,"SpO2":72},{"SIRI":1.69,"SpO2":72},{"SIRI":1.88,"SpO2":72},{"SIRI":1.96,"SpO2":72},{"SIRI":2.22,"SpO2":72},{"SIRI":2.28,"SpO2":72},
{"SIRI":1.03,"SpO2":71},{"SIRI":1.3,"SpO2":71},{"SIRI":1.59,"SpO2":71},
{"SIRI":1.3,"SpO2":69},{"SIRI":1.38,"SpO2":69},{"SIRI":1.48,"SpO2":69},{"SIRI":1.59,"SpO2":69},{"SIRI":1.67,"SpO2":69},{"SIRI":2.25,"SpO2":69},{"SIRI":2.28,"SpO2":69},
{"SIRI":1.14,"SpO2":68},{"SIRI":1.38,"SpO2":68},{"SIRI":1.48,"SpO2":68},
{"SIRI":1.59,"SpO2":67},{"SIRI":1.61,"SpO2":67},{"SIRI":2.41,"SpO2":67},
{"SIRI":2.35,"SpO2":66},{"SIRI":2.43,"SpO2":66},{"SIRI":2.49,"SpO2":66},
{"SIRI":0.48,"SpO2":65},{"SIRI":0.56,"SpO2":65},{"SIRI":0.66,"SpO2":65},{"SIRI":0.93,"SpO2":65},{"SIRI":2.09,"SpO2":65},
{"SIRI":0.48,"SpO2":63},{"SIRI":0.53,"SpO2":63},{"SIRI":0.61,"SpO2":63},{"SIRI":0.79,"SpO2":63},{"SIRI":2.12,"SpO2":63},{"SIRI":2.17,"SpO2":63},{"SIRI":2.72,"SpO2":63},
{"SIRI":0.34,"SpO2":62},{"SIRI":1.67,"SpO2":62},
{"SIRI":0.21,"SpO2":60},{"SIRI":2.06,"SpO2":60},{"SIRI":2.14,"SpO2":60},{"SIRI":2.33,"SpO2":60},
{"SIRI":2.35,"SpO2":59},{"SIRI":2.51,"SpO2":59},{"SIRI":2.54,"SpO2":59},{"SIRI":2.57,"SpO2":59},
{"SIRI":0.5,"SpO2":55},{"SIRI":1.01,"SpO2":55},{"SIRI":2.59,"SpO2":55},
{"SIRI":0.63,"SpO2":54},{"SIRI":1.01,"SpO2":54},{"SIRI":2.62,"SpO2":54},
{"SIRI":0.5,"SpO2":53},{"SIRI":0.66,"SpO2":53},{"SIRI":2.57,"SpO2":53},
{"SIRI":0.84,"SpO2":50},{"SIRI":0.47,"SpO2":45},{"SIRI":0.93,"SpO2":45},{"SIRI":0.7,"SpO2":43},
{"SIRI":3.24,"SpO2":94.1},{"SIRI":3.22,"SpO2":91.2},{"SIRI":3.38,"SpO2":91.2},{"SIRI":3.66,"SpO2":91.2},{"SIRI":3.78,"SpO2":94.3},{"SIRI":3.87,"SpO2":95.3},{"SIRI":3.83,"SpO2":92.2},{"SIRI":3.88,"SpO2":92.2},{"SIRI":3.57,"SpO2":89.3},{"SIRI":3.7,"SpO2":89.3},{"SIRI":3.53,"SpO2":86.5},{"SIRI":3.6,"SpO2":83.4},{"SIRI":3.65,"SpO2":83.4},{"SIRI":3.7,"SpO2":83.4},{"SIRI":3.83,"SpO2":85.2},{"SIRI":3.97,"SpO2":84.2},{"SIRI":4.0,"SpO2":84.2},{"SIRI":4.27,"SpO2":85.2},{"SIRI":4.22,"SpO2":83.2},{"SIRI":4.43,"SpO2":77.1},{"SIRI":3.4,"SpO2":80.2},{"SIRI":3.22,"SpO2":79.2},{"SIRI":3.22,"SpO2":82.2},{"SIRI":3.14,"SpO2":72.2},{"SIRI":3.18,"SpO2":75.4},{"SIRI":3.6,"SpO2":74.3},{"SIRI":3.7,"SpO2":63.1},{"SIRI":3.25,"SpO2":53.2},{"SIRI":3.33,"SpO2":54.1},{"SIRI":4.11,"SpO2":73.2},{"SIRI":2.73,"SpO2":87.1},{"SIRI":2.71,"SpO2":84.9},{"SIRI":3.03,"SpO2":80.5},{"SIRI":2.92,"SpO2":80.2},{"SIRI":2.82,"SpO2":73.2},{"SIRI":2.73,"SpO2":71.9},{"SIRI":2.92,"SpO2":86.5},{"SIRI":2.44,"SpO2":75.6},{"SIRI":2.49,"SpO2":68.8},{"SIRI":2.41,"SpO2":65.9},{"SIRI":2.49,"SpO2":64.9},{"SIRI":2.6,"SpO2":67.8},{"SIRI":2.71,"SpO2":64.9},{"SIRI":2.77,"SpO2":64.9},{"SIRI":2.9,"SpO2":64.9},{"SIRI":3.03,"SpO2":63.9},{"SIRI":2.92,"SpO2":56.1},{"SIRI":2.95,"SpO2":54.6},{"SIRI":2.99,"SpO2":58.5},{"SIRI":2.92,"SpO2":62},{"SIRI":2.6,"SpO2":56.1},{"SIRI":2.65,"SpO2":54.1},{"SIRI":2.57,"SpO2":52.2},{"SIRI":2.65,"SpO2":59.5},{"SIRI":2.59,"SpO2":59.2},{"SIRI":2.91,"SpO2":51},{"SIRI":3.0,"SpO2":51},{"SIRI":2.3,"SpO2":60.5},{"SIRI":2.38,"SpO2":59},{"SIRI":2.06,"SpO2":59},{"SIRI":2.17,"SpO2":60},{"SIRI":2.12,"SpO2":64.9},{"SIRI":2.2,"SpO2":63.9},{"SIRI":2.3,"SpO2":65.9},{"SIRI":2.33,"SpO2":69.8},{"SIRI":2.22,"SpO2":69.8},{"SIRI":2.28,"SpO2":72.2},{"SIRI":2.38,"SpO2":72.2},{"SIRI":2.01,"SpO2":82.4}
],
"lineA": [{"SII":50,"AHI":2.6},{"SII":2300,"AHI":65}],
"lineB": [{"SII":60,"SpO2":85.7},{"SII":2290,"SpO2":72}],
"lineC": [{"SIRI":0,"AHI":3.4},{"SIRI":5,"AHI":60.5}],
"lineD": [{"SIRI":0,"SpO2":84.7},{"SIRI":5,"SpO2":70.6}]
},
"vconcat": [
{"hconcat": [
{"width": 309, "height": 206,
 "title": {"text": "A", "anchor": "start", "frame": "group", "dx": -55, "fontSize": 16, "fontWeight": "bold", "font": "Liberation Sans", "color": "black", "offset": 2},
 "layer": [
  {"data": {"name": "A"}, "mark": {"type": "circle", "size": 7, "color": "black", "opacity": 1},
   "encoding": {"x": {"field": "SII", "type": "quantitative", "scale": {"domain": [0, 2500], "nice": false}, "axis": {"values": [0, 1000, 2000], "format": "d", "title": "SII"}},
                "y": {"field": "AHI", "type": "quantitative", "scale": {"domain": [-6, 100], "nice": false}, "axis": {"values": [0, 20, 40, 60, 80, 100], "format": "d", "title": "AHI(/h)"}}}},
  {"data": {"name": "lineA"}, "mark": {"type": "line", "color": "black", "strokeWidth": 1.5},
   "encoding": {"x": {"field": "SII", "type": "quantitative"}, "y": {"field": "AHI", "type": "quantitative"}}},
  {"data": {"values": [{"label": "r=0.541 P<0.001"}]}, "mark": {"type": "text", "align": "right", "baseline": "alphabetic", "dy": -6, "fontSize": 14, "fontWeight": "bold", "font": "Liberation Sans", "color": "black"},
   "encoding": {"x": {"datum": 2500}, "y": {"datum": 100}, "text": {"field": "label"}}}
 ]},
{"width": 309, "height": 206,
 "title": {"text": "B", "anchor": "start", "frame": "group", "dx": -40, "fontSize": 16, "fontWeight": "bold", "font": "Liberation Sans", "color": "black", "offset": 2},
 "layer": [
  {"data": {"name": "B"}, "mark": {"type": "circle", "size": 7, "color": "black", "opacity": 1},
   "encoding": {"x": {"field": "SII", "type": "quantitative", "scale": {"domain": [0, 2500], "nice": false}, "axis": {"values": [0, 1000, 2000], "format": "d", "title": "SII"}},
                "y": {"field": "SpO2", "type": "quantitative", "scale": {"domain": [40, 100], "nice": false}, "axis": {"values": [40, 60, 80, 100], "format": "d", "title": "Lowest SpO₂"}}}},
  {"data": {"name": "lineB"}, "mark": {"type": "line", "color": "black", "strokeWidth": 1.5},
   "encoding": {"x": {"field": "SII", "type": "quantitative"}, "y": {"field": "SpO2", "type": "quantitative"}}},
  {"data": {"values": [{"label": "r=-0.470 P<0.001"}]}, "mark": {"type": "text", "align": "right", "baseline": "alphabetic", "dy": -6, "fontSize": 14, "fontWeight": "bold", "font": "Liberation Sans", "color": "black"},
   "encoding": {"x": {"datum": 2500}, "y": {"datum": 100}, "text": {"field": "label"}}}
 ]}
], "spacing": 5},
{"hconcat": [
{"width": 309, "height": 206,
 "title": {"text": "C", "anchor": "start", "frame": "group", "dx": -60, "fontSize": 16, "fontWeight": "bold", "font": "Liberation Sans", "color": "black", "offset": 2},
 "layer": [
  {"data": {"name": "C"}, "mark": {"type": "circle", "size": 7, "color": "black", "opacity": 1},
   "encoding": {"x": {"field": "SIRI", "type": "quantitative", "scale": {"domain": [0, 5], "nice": false}, "axis": {"values": [0, 2, 4], "format": "d", "title": "SIRI"}},
                "y": {"field": "AHI", "type": "quantitative", "scale": {"domain": [-5, 100], "nice": false}, "axis": {"values": [0, 20, 40, 60, 80, 100], "format": "d", "title": "AHI(/h)"}}}},
  {"data": {"name": "lineC"}, "mark": {"type": "line", "color": "black", "strokeWidth": 1.5},
   "encoding": {"x": {"field": "SIRI", "type": "quantitative"}, "y": {"field": "AHI", "type": "quantitative"}}},
  {"data": {"values": [{"label": "r=0.412 P<0.001"}]}, "mark": {"type": "text", "align": "right", "baseline": "alphabetic", "dy": -6, "fontSize": 14, "fontWeight": "bold", "font": "Liberation Sans", "color": "black"},
   "encoding": {"x": {"datum": 5}, "y": {"datum": 100}, "text": {"field": "label"}}}
 ]},
{"width": 309, "height": 206,
 "title": {"text": "D", "anchor": "start", "frame": "group", "dx": -42, "fontSize": 16, "fontWeight": "bold", "font": "Liberation Sans", "color": "black", "offset": 2},
 "layer": [
  {"data": {"name": "D"}, "mark": {"type": "circle", "size": 7, "color": "black", "opacity": 1},
   "encoding": {"x": {"field": "SIRI", "type": "quantitative", "scale": {"domain": [0, 5], "nice": false}, "axis": {"values": [0, 2, 4], "format": "d", "title": "SIRI"}},
                "y": {"field": "SpO2", "type": "quantitative", "scale": {"domain": [40, 100], "nice": false}, "axis": {"values": [40, 60, 80, 100], "format": "d", "title": "Lowest SpO₂"}}}},
  {"data": {"name": "lineD"}, "mark": {"type": "line", "color": "black", "strokeWidth": 1.5},
   "encoding": {"x": {"field": "SIRI", "type": "quantitative"}, "y": {"field": "SpO2", "type": "quantitative"}}},
  {"data": {"values": [{"label": "r=-0.374 P<0.001"}]}, "mark": {"type": "text", "align": "right", "baseline": "alphabetic", "dy": -6, "fontSize": 14, "fontWeight": "bold", "font": "Liberation Sans", "color": "black"},
   "encoding": {"x": {"datum": 5}, "y": {"datum": 100}, "text": {"field": "label"}}}
 ]}
], "spacing": 5}
],
"config": {
 "font": "Liberation Sans",
 "view": {"stroke": null},
 "axis": {"domainColor": "black", "domainWidth": 2.5, "tickColor": "black", "tickWidth": 2.5, "tickSize": 8, "grid": false,
          "labelFont": "Liberation Sans", "labelFontSize": 15, "labelFontWeight": "bold", "labelColor": "black",
          "titleFont": "Liberation Sans", "titleFontSize": 20, "titleFontWeight": "bold", "titleColor": "black", "titlePadding": 7},
 "axisX": {"labelPadding": 4, "titlePadding": 9},
 "axisY": {"labelPadding": 2}
}
}
